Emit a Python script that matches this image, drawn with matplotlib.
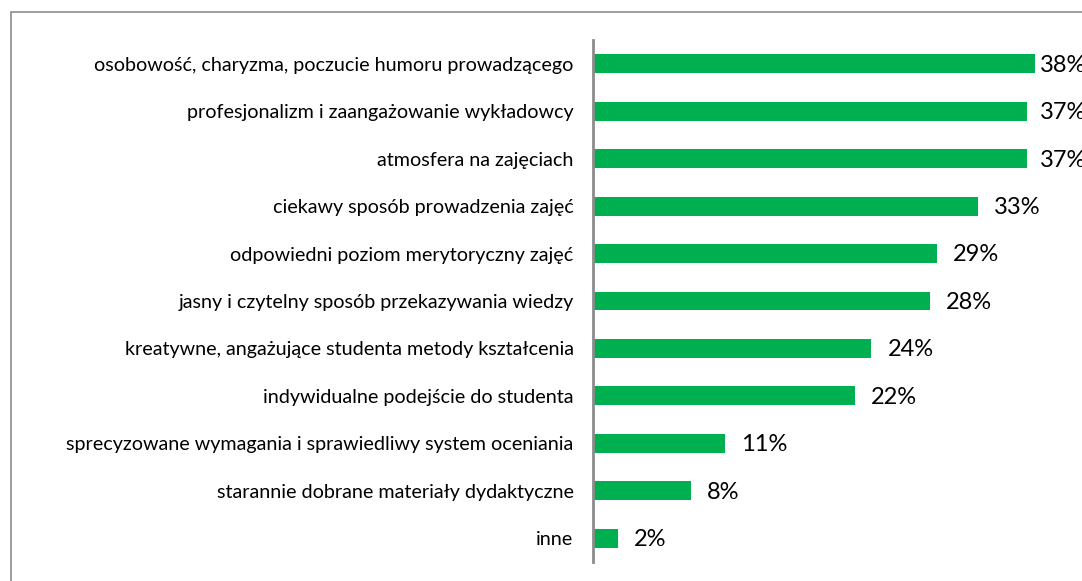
import matplotlib
matplotlib.use("Agg")
import matplotlib.pyplot as plt
from matplotlib.patches import Rectangle

# categories, top to bottom as in the chart
categories = [
    "osobowość, charyzma, poczucie humoru prowadzącego",
    "profesjonalizm i zaangażowanie wykładowcy",
    "atmosfera na zajęciach",
    "ciekawy sposób prowadzenia zajęć",
    "odpowiedni poziom merytoryczny zajęć",
    "jasny i czytelny sposób przekazywania wiedzy",
    "kreatywne, angażujące studenta metody kształcenia",
    "indywidualne podejście do studenta",
    "sprecyzowane wymagania i sprawiedliwy system oceniania",
    "starannie dobrane materiały dydaktyczne",
    "inne",
]
# bar lengths (percent)
values = [37.3, 36.6, 36.6, 32.5, 29.0, 28.4, 23.5, 22.1, 11.1, 8.3, 2.1]
value_labels = ["38%", "37%", "37%", "33%", "29%", "28%", "24%", "22%", "11%", "8%", "2%"]

GREEN = "#00B050"
W, H = 1082, 581

plt.rcParams["font.family"] = ["Lato", "DejaVu Sans"]

fig = plt.figure(figsize=(W / 100, H / 100), dpi=100)

# outer chart border (right and bottom edges fall outside the image)
fig.patches.append(Rectangle((11 / W, -0.1), 1.2, 1 - 12 / H + 0.1,
                             transform=fig.transFigure, fill=False,
                             edgecolor="#8c8c8c", linewidth=1.2))

ax = fig.add_axes([593 / W, 1 - 562 / H, (W - 593) / W, (562 - 40) / H])

y = list(range(len(categories)))
ax.barh(y, values, height=0.4, color=GREEN)

xmax = (W - 593) / 11.85
ax.set_xlim(0, xmax)
ax.set_ylim(len(categories) - 0.5, -0.5)

label_cap = (1040 - 593) / 11.85
for yi, v, lab in zip(y, values, value_labels):
    ax.text(min(v + 1.35, label_cap), yi + 0.03, lab, va="center", ha="left",
            fontsize=17, color="black", clip_on=False)

ax.set_yticks(y)
ax.set_yticklabels(categories, fontsize=14.2)
ax.tick_params(axis="y", length=0, pad=14)
ax.set_xticks([])
for s in ["top", "right", "bottom"]:
    ax.spines[s].set_visible(False)
ax.spines["left"].set_color("#8c8c8c")
ax.spines["left"].set_linewidth(2)

fig.savefig("out.png", dpi=100)
